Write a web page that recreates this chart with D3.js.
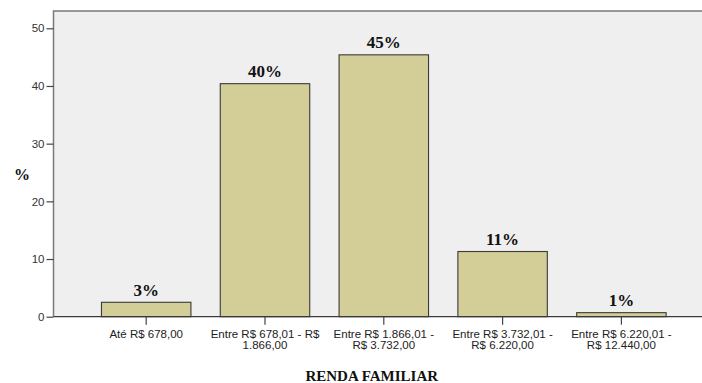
<!DOCTYPE html>
<html>
<head>
<meta charset="utf-8">
<script src="https://cdn.jsdelivr.net/npm/d3@7"></script>
<style>
  html, body { margin: 0; padding: 0; background: #ffffff; }
  svg { display: block; }
</style>
</head>
<body>
<svg id="chart" width="702" height="383"></svg>
<script>
// Family income distribution (percent of respondents)
const categories = [
  ["Até R$ 678,00"],
  ["Entre R$ 678,01 - R$", "1.866,00"],
  ["Entre R$ 1.866,01 -", "R$ 3.732,00"],
  ["Entre R$ 3.732,01 -", "R$ 6.220,00"],
  ["Entre R$ 6.220,01 -", "R$ 12.440,00"]
];
const percents = [2.5, 40.4, 45.4, 11.3, 0.7];
const yTicks = [0, 10, 20, 30, 40, 50];
const xTitle = "RENDA FAMILIAR";
const yTitle = "%";

const svg = d3.select("#chart");
const plot = { left: 53.5, top: 11, right: 702, bottom: 316.7 };

const x = d3.scaleBand()
  .domain(d3.range(categories.length))
  .range([86.8, 680.8])
  .paddingInner(0.247)
  .paddingOuter(0.1235);

const y = d3.scaleLinear()
  .domain([0, 50])
  .range([plot.bottom, 28.3]);

// plot background
svg.append("rect")
  .attr("x", plot.left).attr("y", plot.top)
  .attr("width", plot.right - plot.left).attr("height", plot.bottom - plot.top)
  .attr("fill", "#efefef");

// frame: top and left edges
svg.append("path")
  .attr("d", `M${plot.left},${plot.bottom}V${plot.top}H${plot.right}`)
  .attr("fill", "none").attr("stroke", "#7a7a7a").attr("stroke-width", 1.5);

// bars
svg.append("g").selectAll("rect")
  .data(percents)
  .join("rect")
  .attr("x", (d, i) => x(i))
  .attr("y", d => y(d))
  .attr("width", x.bandwidth())
  .attr("height", d => y(0) - y(d))
  .attr("fill", "#d3cd98")
  .attr("stroke", "#3a3a3a")
  .attr("stroke-width", 1.1);

// value labels
const fmt = d3.format(".0f");
svg.append("g").selectAll("text")
  .data(percents)
  .join("text")
  .attr("x", (d, i) => x(i) + x.bandwidth() / 2)
  .attr("y", d => y(d) - 6.5)
  .attr("text-anchor", "middle")
  .attr("font-family", "'Liberation Serif', 'Times New Roman', serif")
  .attr("font-weight", "bold")
  .attr("font-size", 17)
  .attr("fill", "#111")
  .text(d => fmt(d) + "%");

// y axis
const yAxis = svg.append("g")
  .attr("transform", `translate(${plot.left},0)`)
  .call(d3.axisLeft(y).tickValues(yTicks).tickSize(7).tickPadding(2).tickSizeOuter(0));
yAxis.select(".domain").remove();
yAxis.selectAll(".tick line").attr("stroke", "#444").attr("stroke-width", 1.2);
yAxis.selectAll(".tick text")
  .attr("font-family", "'Liberation Sans', Arial, sans-serif")
  .attr("font-size", 11.5)
  .attr("fill", "#333");

// x axis line
svg.append("line")
  .attr("x1", plot.left).attr("x2", plot.right)
  .attr("y1", plot.bottom).attr("y2", plot.bottom)
  .attr("stroke", "#3a3a3a").attr("stroke-width", 1.3);

// x ticks and category labels
const xAxis = svg.append("g")
  .attr("transform", `translate(0,${plot.bottom})`)
  .call(d3.axisBottom(x).tickSize(8).tickSizeOuter(0).tickFormat(""));
xAxis.select(".domain").remove();
xAxis.selectAll(".tick line").attr("stroke", "#444").attr("stroke-width", 1.2);

const catLabels = svg.append("g").selectAll("text")
  .data(categories)
  .join("text")
  .attr("text-anchor", "middle")
  .attr("font-family", "'Liberation Sans', Arial, sans-serif")
  .attr("font-size", 11.5)
  .attr("fill", "#222");
catLabels.each(function(lines, i) {
  const cx = x(i) + x.bandwidth() / 2;
  d3.select(this).selectAll("tspan")
    .data(lines)
    .join("tspan")
    .attr("x", cx)
    .attr("y", (d, j) => 338 + j * 11)
    .text(d => d);
});

// axis titles
svg.append("text")
  .attr("x", (plot.left + plot.right) / 2 - 6)
  .attr("y", 381)
  .attr("text-anchor", "middle")
  .attr("font-family", "'Liberation Serif', 'Times New Roman', serif")
  .attr("font-weight", "bold")
  .attr("font-size", 15)
  .attr("fill", "#111")
  .text(xTitle);

svg.append("text")
  .attr("x", 22)
  .attr("y", 180)
  .attr("text-anchor", "middle")
  .attr("font-family", "'Liberation Serif', 'Times New Roman', serif")
  .attr("font-weight", "bold")
  .attr("font-size", 16)
  .attr("fill", "#111")
  .text(yTitle);
</script>
</body>
</html>
